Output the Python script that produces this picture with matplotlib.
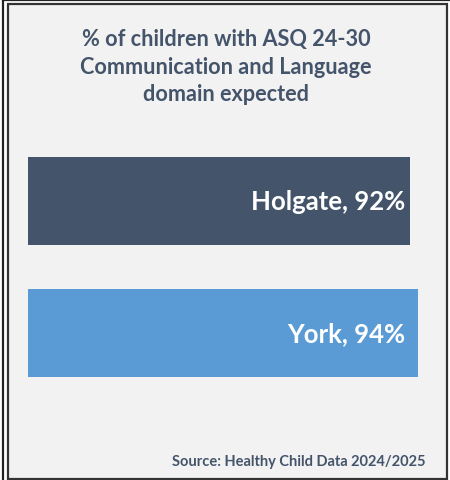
import matplotlib.pyplot as plt
from matplotlib.patches import Rectangle
from matplotlib.lines import Line2D

labels = ["Holgate", "York"]
values = [92, 94]
colors = ["#44546a", "#5b9bd5"]
title = "% of children with ASQ 24-30\nCommunication and Language\ndomain expected"
source = "Source: Healthy Child Data 2024/2025"

W, H = 450, 481
fig = plt.figure(figsize=(W / 100, H / 100), dpi=100)
fig.patch.set_facecolor("white")

def fx(px): return px / W
def fy(py): return 1 - py / H

# panel and frame lines
fig.patches.append(Rectangle((fx(8), fy(480)), fx(447) - fx(8), fy(4.5) - fy(480),
                             transform=fig.transFigure, facecolor="#f2f2f2",
                             edgecolor="#333333", lw=1.6, zorder=0))
fig.lines.append(Line2D([fx(2.5), fx(2.5)], [0, 1], transform=fig.transFigure, color="#222222", lw=1.6))
fig.lines.append(Line2D([fx(2.5), 1], [fy(1), fy(1)], transform=fig.transFigure, color="#222222", lw=1.6))

ax = fig.add_axes([fx(28), fy(400), fx(443) - fx(28), fy(140) - fy(400)])
ax.set_zorder(3)
ax.set_facecolor("none")
y = [0, 1]
ax.barh(y, values, height=0.667, color=colors)
ax.set_xlim(0, 100)
ax.set_ylim(1.5, -0.47)
ax.axis("off")
for yi, lab, v in zip(y, labels, values):
    ax.text(90.8, yi, f"{lab}, {v}%", ha="right", va="center", color="white",
            fontsize=18.5, fontweight="bold", family="Lato")

fig.text(fx(226), fy(67), title, ha="center", va="center", color="#44546a",
         fontsize=15.6, fontweight="bold", family="Lato", linespacing=1.4)
fig.text(fx(426), fy(462), source, ha="right", va="center", color="#44546a",
         fontsize=10.5, fontweight="bold", family="Lato")

fig.savefig("out.png", dpi=100)
